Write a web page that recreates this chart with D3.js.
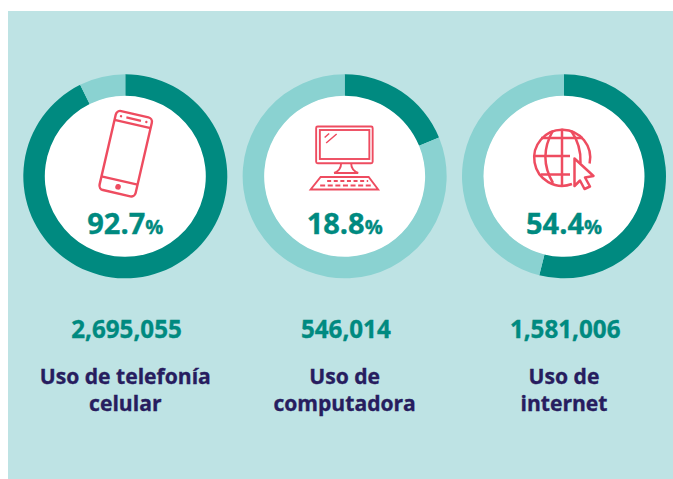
<!DOCTYPE html>
<html><head><meta charset="utf-8">
<script src="https://cdn.jsdelivr.net/npm/d3@7"></script>
<style>html,body{margin:0;padding:0;background:#fff}svg{display:block}text{font-family:"Open Sans",sans-serif;font-weight:700;text-anchor:middle;stroke-width:.35px}</style>
</head><body><svg id="c" width="673" height="479"></svg>
<script>
const categories = ["phone", "computer", "internet"];
const percents = [92.7, 18.8, 54.4];
const ringShares = [92.7, 18.8, 53.9];
const totals = ["2,695,055", "546,014", "1,581,006"];
const labelLine1 = ["Uso de telefonía", "Uso de", "Uso de"];
const labelLine2 = ["celular", "computadora", "internet"];

const DARK = "#008a80", LIGHT = "#8ad2d1", BG = "#bee3e4", RED = "#ee4c60", NAVY = "#271d5f";
const svg = d3.select("#c");
svg.append("rect").attr("x", 8).attr("y", 11).attr("width", 665).attr("height", 468).attr("fill", BG);

const x = d3.scalePoint().domain(categories).range([125.3, 564]);
const cy = 176.3;
const arc = d3.arc().innerRadius(80.5).outerRadius(102);
const white = d3.arc().innerRadius(0).outerRadius(81)({startAngle: 0, endAngle: 2 * Math.PI});
const pie = d3.pie().sort(null).value(d => d);

const icons = {
  phone(g) {
    const p = g.append("g").attr("transform", "translate(0.4,-22.6) rotate(13)");
    const s = sel => sel.attr("fill", "none").attr("stroke", RED).attr("stroke-width", 2.4);
    p.append("rect").attr("x", -18.5).attr("y", -40.5).attr("width", 37).attr("height", 81).attr("rx", 4.5).call(s);
    p.append("path").attr("d", "M-18.5,-30.5H18.5M-18.5,27.5H18.5").call(s);
    p.append("path").attr("d", "M-7.5,-35.5H7.5").call(s);
    p.append("circle").attr("cx", -13).attr("cy", -35.5).attr("r", 1.2).attr("fill", RED);
    p.append("circle").attr("cx", 13).attr("cy", -35.5).attr("r", 1.2).attr("fill", RED);
    p.append("circle").attr("cx", 0).attr("cy", 34).attr("r", 2.8).attr("fill", RED);
  },
  computer(g) {
    const s = sel => sel.attr("fill", "none").attr("stroke", RED).attr("stroke-width", 1.9);
    const o = g.append("g").attr("transform", "translate(-344.5,-176.3)");
    o.append("rect").attr("x", 316).attr("y", 126.5).attr("width", 56.5).attr("height", 36.8).attr("rx", 1.5).call(s);
    o.append("rect").attr("x", 319.7).attr("y", 130).attr("width", 49.5).attr("height", 29).call(s);
    o.append("path").attr("d", "M324.5,137.5L329,133.5M326,143L336.5,134").call(s).attr("stroke-width", 1.5);
    o.append("path").attr("d", "M341,163C341,168 339,171 334,173H358C353,171 351,168 351,163").call(s);
    o.append("path").attr("d", "M320.5,177H368.5L378,189.5H310.5Z").call(s);
    o.append("path").attr("d", "M327,181H368").call(s).attr("stroke-dasharray", "4 2.6");
    o.append("path").attr("d", "M320,185.5H371").call(s).attr("stroke-dasharray", "5 2.6");
  },
  internet(g) {
    const s = sel => sel.attr("fill", "none").attr("stroke", RED).attr("stroke-width", 2.5);
    const o = g.append("g").attr("transform", "translate(-564,-176.3)");
    o.append("path").attr("d", "M572,184A28,28 0 1 1 589.6,163.5").call(s);
    o.append("path").attr("d", "M562,128.7V185.5").call(s);
    o.append("path").attr("d", "M553,130.5C543,148 543,166 553,183M571,130.5C579,142 581,152 580.5,163").call(s);
    o.append("path").attr("d", "M534,156H570M541,138H583M541,174.5H570").call(s);
    o.append("path").attr("d", "M574.5,158.5L593.5,176L585,177.5L590,186.5L584.5,189L580,180.5L574.5,186Z").call(s).attr("stroke-linejoin", "round");
  }
};

categories.forEach((c, i) => {
  const g = svg.append("g").attr("transform", `translate(${x(c)},${cy})`);
  g.append("path").attr("d", white).attr("fill", "#fff");
  g.selectAll("path.s").data(pie([ringShares[i], 100 - ringShares[i]])).join("path")
    .attr("class", "s").attr("d", arc).attr("fill", (d, j) => j === 0 ? DARK : LIGHT);
  icons[c](g);
  const t = g.append("text").attr("y", 57.6).attr("fill", DARK).attr("stroke", DARK).attr("font-size", 29);
  t.append("tspan").text(percents[i].toFixed(1));
  t.append("tspan").attr("font-size", 20).text("%");
  svg.append("text").attr("x", x(c) + 1.2).attr("y", 338).attr("fill", DARK).attr("stroke", DARK).attr("font-size", 24.2).text(totals[i]);
  svg.append("text").attr("x", x(c)).attr("y", 384).attr("fill", NAVY).attr("stroke", NAVY).attr("font-size", 21.1).text(labelLine1[i]);
  svg.append("text").attr("x", x(c)).attr("y", 411).attr("fill", NAVY).attr("stroke", NAVY).attr("font-size", 21.1).text(labelLine2[i]);
});
</script></body></html>
